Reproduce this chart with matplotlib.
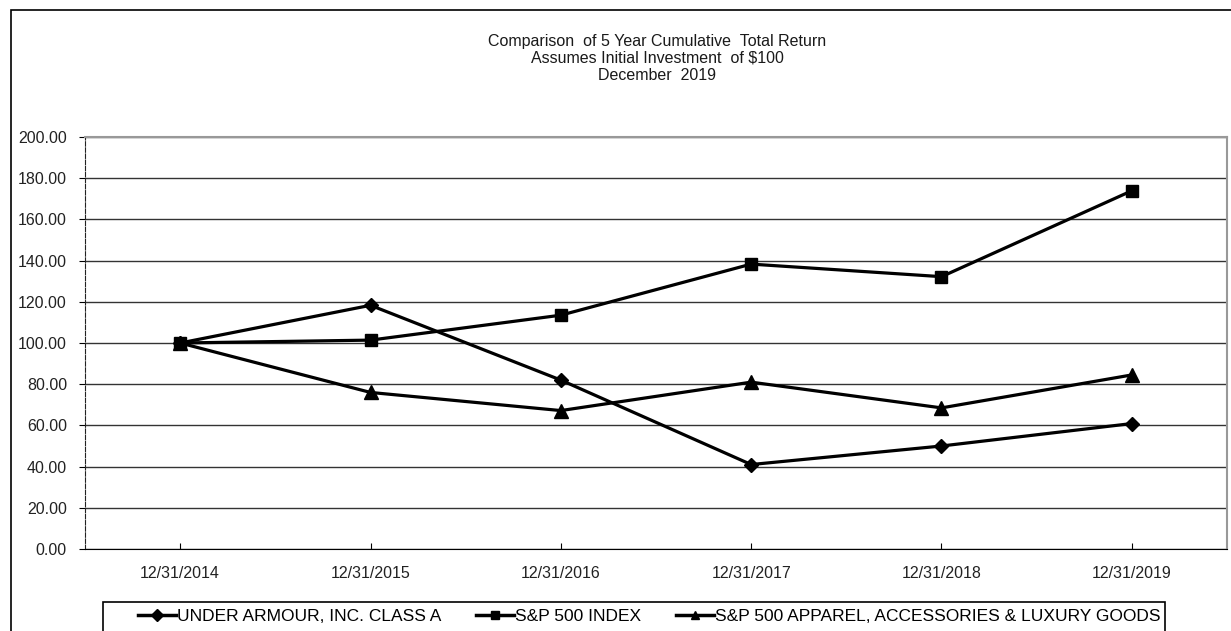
import matplotlib
matplotlib.use("Agg")
import matplotlib.pyplot as plt
from matplotlib.patches import Rectangle

# data
dates = ["12/31/2014", "12/31/2015", "12/31/2016", "12/31/2017", "12/31/2018", "12/31/2019"]
under_armour = [100.00, 118.3, 82.0, 41.0, 50.0, 60.9]
sp500 = [100.00, 101.4, 113.5, 138.3, 132.2, 173.9]
apparel = [100.00, 76.0, 67.2, 81.0, 68.5, 84.5]

series_names = ["UNDER ARMOUR, INC. CLASS A", "S&P 500 INDEX",
                "S&P 500 APPAREL, ACCESSORIES & LUXURY GOODS"]

plt.rcParams['font.family'] = ['Liberation Sans', 'DejaVu Sans']

W, H = 1231, 631
fig = plt.figure(figsize=(W / 100, H / 100), dpi=100)

# outer border of the chart image (right and bottom run off the picture)
fig.patches.append(Rectangle((11 / W, -0.1), 1.1, 1.1 - 10 / H,
                             transform=fig.transFigure, fill=False,
                             edgecolor="black", lw=1.2))

ax = fig.add_axes([85 / W, (H - 549) / H, (1227 - 85) / W, (549 - 137) / H])

x = list(range(len(dates)))
ax.plot(x, under_armour, color="black", lw=2.3, marker="D", markersize=7,
        label=series_names[0])
ax.plot(x, sp500, color="black", lw=2.3, marker="s", markersize=8.5,
        label=series_names[1])
ax.plot(x, apparel, color="black", lw=2.3, marker="^", markersize=10,
        label=series_names[2])

ax.set_xlim(-0.5, len(dates) - 0.5)
ax.set_ylim(0, 200)
ax.set_yticks(range(0, 201, 20))
ax.set_yticklabels([f"{v:.2f}" for v in range(0, 201, 20)])
ax.set_xticks(x)
ax.set_xticklabels(dates)

ax.grid(axis="y", color="#333333", lw=1)
ax.set_axisbelow(True)

ax.spines["left"].set_linestyle((0, (4, 1.5)))
ax.spines["left"].set_color("#222222")
ax.spines["bottom"].set_color("black")
for side in ["top", "right"]:
    ax.spines[side].set_color("#999999")
    ax.spines[side].set_linewidth(1.5)

ax.tick_params(axis="y", direction="out", length=4, pad=9, labelsize=11.5,
               labelcolor="#222222")
ax.tick_params(axis="x", direction="in", length=4, pad=12, labelsize=11.5,
               labelcolor="#222222")

fig.text(657 / W, 1 - 34 / H,
         "Comparison  of 5 Year Cumulative  Total Return\n"
         "Assumes Initial Investment  of $100\n"
         "December  2019",
         ha="center", va="top", fontsize=11.5, color="#1a1a1a", linespacing=1.15)

# legend box drawn separately, bottom edge is cut off by the picture
fig.patches.append(Rectangle((103 / W, -0.1), (1165 - 103) / W, 0.1 + (H - 602) / H,
                             transform=fig.transFigure, fill=False,
                             edgecolor="black", lw=1.2))
leg = fig.legend(loc="center left", bbox_to_anchor=(138 / W, 1 - 616 / H),
                 ncol=3, frameon=False, fontsize=12.5,
                 handlelength=2.2, handletextpad=0.05, columnspacing=2.0,
                 borderpad=0, borderaxespad=0)
for h in leg.legend_handles:
    h.set_markersize(6)
    h.set_linewidth(2.5)

fig.savefig("out.png", dpi=100)
